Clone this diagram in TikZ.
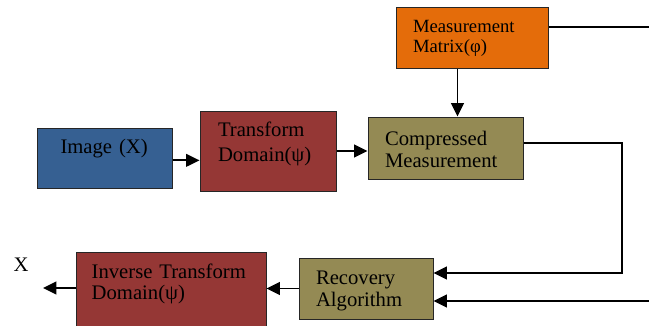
\documentclass[tikz,border=0pt]{standalone}
\usepackage{fontspec}
\setmainfont{Liberation Serif}
\usetikzlibrary{arrows.meta}

\begin{document}
\begin{tikzpicture}[x=0.75pt,y=0.75pt,yscale=-1,xscale=1,
  blk/.style={draw={rgb, 255:red, 38; green, 38; blue, 38 }, line width=0.75pt, inner sep=0pt, align=left, text height=10.5pt, font=\fontsize{15.5}{16.5}\selectfont},
  brickfill/.style={fill={rgb, 255:red, 149; green, 55; blue, 53 }},
  olivefill/.style={fill={rgb, 255:red, 148; green, 138; blue, 84 }},
  flow/.style={line width=1.3pt, -{Triangle[length=10pt,width=9.5pt]}},
  wire/.style={line width=1.3pt}]
%diagram starts at 0, width 649, height 325
\clip (0,0) rectangle (649,325);

%Shape: Rectangle -- measurement matrix
\node [blk, fill={rgb, 255:red, 228; green, 108; blue, 10 }, minimum width=114pt, minimum height=45.75pt, text width=88.5pt, text height=9pt, text depth=17.25pt, font=\fontsize{14}{15}\selectfont] (matrix) at (472,37.5) {Measurement\\Matrix(φ)};
%Shape: Rectangle -- image
\node [blk, fill={rgb, 255:red, 54; green, 96; blue, 146 }, minimum width=101.25pt, minimum height=45pt, text width=66pt, text depth=18pt] (img) at (104.5,158) {Image (X)};
%Shape: Rectangle -- transform domain
\node [blk, brickfill, minimum width=102pt, minimum height=60pt, text width=75pt, text depth=32pt, font=\fontsize{15.5}{18.5}\selectfont] (tdom) at (268,151) {Transform\\Domain(ψ)};
%Shape: Rectangle -- compressed measurement
\node [blk, olivefill, minimum width=116.25pt, minimum height=46.5pt, text width=90.75pt, text depth=15pt] (cm) at (445.5,148) {Compressed\\Measurement};
%Shape: Rectangle -- recovery
\node [blk, olivefill, minimum width=100.5pt, minimum height=45.75pt, text width=75pt, text depth=17.25pt] (rec) at (366,288.5) {Recovery\\Algorithm};
%Shape: Rectangle -- inverse transform (runs off the bottom)
\node [blk, brickfill, minimum width=142.5pt, minimum height=66pt, text width=119pt, text depth=37.5pt, font=\fontsize{15.5}{15.75}\selectfont] (inv) at (171,296) {Inverse Transform\\Domain(ψ)};
%Text Node
\node [font=\fontsize{15.5}{18}\selectfont, anchor=base, inner sep=0pt] (xlbl) at (21,271) {X};

\coordinate (mtrout) at (649,27);
\coordinate (fb) at (622,273);
\coordinate (recin) at (649,301);
\coordinate (xout) at (43,288);

%Straight Lines
\draw [wire] (matrix.east |- mtrout) -- (mtrout);
\draw [flow] ([xshift=46.5pt]matrix.south west) -- ([xshift=46.5pt]matrix.south west |- cm.north);
\draw [flow] ([yshift=1.75pt]img.east) -- ([yshift=1.75pt]tdom.west |- img.east);
\draw [flow] (tdom.east) -- (tdom.east -| cm.west);
%feedback to recovery
\draw [flow] ([yshift=-3.75pt]cm.east) -| (fb) -- (fb -| rec.east);
\draw [flow] (recin) -- (recin -| rec.east);
\draw [flow] (rec.west) -- (rec.west -| inv.east);
\draw [flow] (inv.west |- xout) -- (xout);

\end{tikzpicture}
\end{document}
